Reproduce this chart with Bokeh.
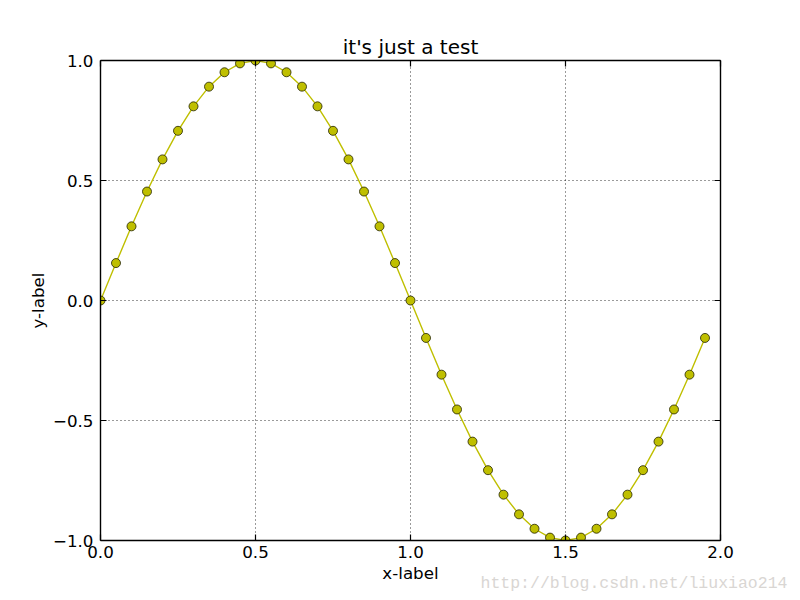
from bokeh.plotting import figure
from bokeh.models import Range1d, LinearAxis, FixedTicker, Title, CustomLabelingPolicy
from bokeh.embed import file_html
from bokeh.resources import INLINE

x_vals = [0.00, 0.05, 0.10, 0.15, 0.20, 0.25, 0.30, 0.35, 0.40, 0.45,
          0.50, 0.55, 0.60, 0.65, 0.70, 0.75, 0.80, 0.85, 0.90, 0.95,
          1.00, 1.05, 1.10, 1.15, 1.20, 1.25, 1.30, 1.35, 1.40, 1.45,
          1.50, 1.55, 1.60, 1.65, 1.70, 1.75, 1.80, 1.85, 1.90, 1.95]
y_vals = [0.000, 0.156, 0.309, 0.454, 0.588, 0.707, 0.809, 0.891, 0.951, 0.988,
          1.000, 0.988, 0.951, 0.891, 0.809, 0.707, 0.588, 0.454, 0.309, 0.156,
          0.000, -0.156, -0.309, -0.454, -0.588, -0.707, -0.809, -0.891, -0.951, -0.988,
          -1.000, -0.988, -0.951, -0.891, -0.809, -0.707, -0.588, -0.454, -0.309, -0.156]
x_ticks = [0.0, 0.5, 1.0, 1.5, 2.0]
y_ticks = [-1.0, -0.5, 0.0, 0.5, 1.0]
y_tick_labels = {-1.0: "\u22121.0", -0.5: "\u22120.5", 0.0: "0.0", 0.5: "0.5", 1.0: "1.0"}
x_tick_labels = {0.0: "0.0", 0.5: "0.5", 1.0: "1.0", 1.5: "1.5", 2.0: "2.0"}
title_text = "it's just a test"
x_label = "x-label"
y_label = "y-label"
watermark = "http://blog.csdn.net/liuxiao214"

FONT = "DejaVu Sans"
YEL = "#bfbf00"

p = figure(width=792, height=592, output_backend="svg", toolbar_location=None,
           x_range=Range1d(0, 2), y_range=Range1d(-1, 1),
           x_axis_location=None, y_axis_location=None,
           min_border_left=100, min_border_right=72, min_border_top=60, min_border_bottom=52)
p.outline_line_color = None
p.background_fill_color = "white"
p.border_fill_color = "white"

p.title = Title(text=title_text, align="center", text_font=FONT, text_font_size="20px",
                text_font_style="normal", text_color="black", standoff=-26)

hide_policy = CustomLabelingPolicy(code="""
try {
  const ids = [...indices]
  for (const i of ids) { indices.unset(i) }
} catch (e) {}
return indices
""")

def make_axis(labels, ticks, show_labels, axis_label=None, label_standoff=6):
    ax = LinearAxis(ticker=FixedTicker(ticks=ticks))
    ax.major_tick_in = 6
    ax.major_tick_out = 0
    ax.minor_tick_in = 0
    ax.minor_tick_out = 0
    ax.axis_line_color = "black"
    ax.axis_line_width = 1.4
    ax.major_tick_line_color = "black"
    ax.major_tick_line_width = 1.2
    ax.major_label_text_font = FONT
    ax.major_label_text_font_size = "16.7px"
    ax.major_label_text_color = "black"
    ax.major_label_standoff = label_standoff
    ax.major_label_overrides = labels
    if not show_labels:
        ax.major_label_policy = hide_policy
        ax.major_label_standoff = 0
    if axis_label:
        ax.axis_label = axis_label
        ax.axis_label_text_font = FONT
        ax.axis_label_text_font_size = "16.7px"
        ax.axis_label_text_font_style = "normal"
        ax.axis_label_text_color = "black"
        ax.axis_label_standoff = 2
    return ax

p.add_layout(make_axis(x_tick_labels, x_ticks, True, x_label, 5), "below")
p.add_layout(Title(text=watermark, align="left", offset=380, standoff=-24,
                   vertical_align="top",
                   text_font="Liberation Mono", text_font_size="16.5px",
                   text_font_style="normal", text_color="#d9d6d3"), "below")
p.add_layout(make_axis(y_tick_labels, y_ticks, True, y_label, 7), "left")
p.add_layout(make_axis(x_tick_labels, x_ticks, False), "above")
p.add_layout(make_axis(y_tick_labels, y_ticks, False), "right")

p.xgrid.ticker = FixedTicker(ticks=x_ticks)
p.ygrid.ticker = FixedTicker(ticks=y_ticks)
for g in (p.xgrid, p.ygrid):
    g.grid_line_color = "black"
    g.grid_line_width = 0.8
    g.grid_line_dash = "1 3"
    g.grid_line_alpha = 1.0

p.line(x_vals, y_vals, line_color=YEL, line_width=1.4)
p.scatter(x_vals, y_vals, size=9, fill_color=YEL, line_color="#222200", line_width=0.8)

open("out.html", "w").write(file_html(p, INLINE))
